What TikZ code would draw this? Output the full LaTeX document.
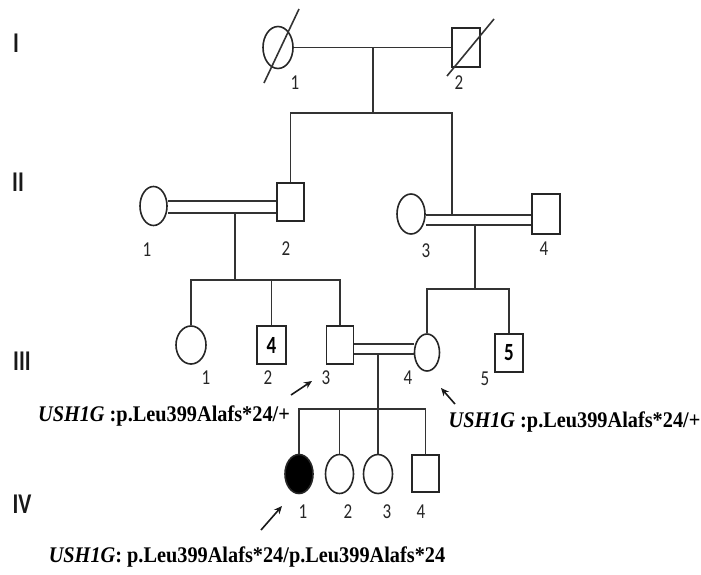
\documentclass[tikz,border=0pt]{standalone}
\usepackage{fontspec}
\setmainfont{Liberation Serif}
\newfontfamily\labfont{Carlito}
\usetikzlibrary{shapes.geometric,calc,arrows.meta}
\begin{document}
\begin{tikzpicture}[x=1pt,y=-1pt,
  ln/.style={line width=1.6pt,draw=black!80},
  fem/.style={ellipse,draw=black!85,line width=1.6pt,inner sep=0pt,fill=white},
  mal/.style={rectangle,draw=black!85,line width=1.6pt,inner sep=0pt,fill=white},
  numlab/.style={inner sep=0pt,text=black!85,font=\labfont\fontsize{17}{17}\selectfont},
  gen/.style={inner sep=0pt,text=black!90,font=\labfont\bfseries\fontsize{22}{22}\selectfont},
  boxnum/.style={font=\labfont\bfseries\fontsize{19}{19}\selectfont},
  mut/.style={inner sep=0pt,font=\bfseries\fontsize{20.3}{22}\selectfont},
  arr/.style={line width=1.6pt,draw=black!90,-{Stealth[length=8pt,width=7pt]}}]
\useasboundingbox (0,0) rectangle (701,574);

% generation labels
\node[gen] (gI)   at (16,43)  {\scalebox{1}[1.3]{I}};
\node[gen] (gII)  at (18,182) {\scalebox{1}[1.3]{II}};
\node[gen] (gIII) at (22,361) {\scalebox{1}[1.3]{III}};
\node[gen] (gIV)  at (22,504) {\scalebox{1}[1.3]{IV}};

% generation I
\node[fem,minimum width=30pt,minimum height=42pt] (I1) at (278,47.5) {};
\node[mal,minimum width=28pt,minimum height=39pt] (I2) at (466,47.5) {};
\coordinate (d1a) at (264,83);  \coordinate (d1b) at (299,9);
\coordinate (d2a) at (447,76);  \coordinate (d2b) at (494,19);
\draw[ln] (d1a) -- (d1b);
\draw[ln] (d2a) -- (d2b);
\draw[ln] (I1.east) -- (I2.west);
\coordinate (m1) at (373,47.5);
\coordinate (s1) at (373,113);
\coordinate (s1R) at (452,113);
\coordinate (c34) at (452,215);

% generation II
\node[fem,minimum width=27pt,minimum height=39pt] (II1) at (153.5,206) {};
\node[mal,minimum width=27pt,minimum height=38pt] (II2) at (290.5,202) {};
\node[fem,minimum width=28pt,minimum height=40pt] (II3) at (411,214) {};
\node[mal,minimum width=28pt,minimum height=40pt] (II4) at (546,214) {};

\draw[ln] (m1) -- (s1);
\draw[ln] (II2.north) |- (s1R) -- (c34);

\draw[ln] ($(II1.east)+(0,-5)$) -- ($(II2.west)+(0,-1)$);
\draw[ln] ($(II1.east)+(0,7)$) -- ($(II2.west)+(0,11)$);
\draw[ln] ($(II3.east)+(0,1)$) -- ($(II4.west)+(0,1)$);
\draw[ln] ($(II3.east)+(0,11)$) -- ($(II4.west)+(0,11)$);

% generation III
\node[fem,minimum width=30pt,minimum height=38pt] (III1) at (191,345) {};
\node[mal,minimum width=29pt,minimum height=38pt,boxnum] (III2) at (271.5,345) {\scalebox{1}[1.3]{4}};
\node[mal,minimum width=27pt,minimum height=38pt] (III3) at (340,345) {};
\node[fem,minimum width=25pt,minimum height=37pt] (III4) at (427,352.5) {};
\node[mal,minimum width=28pt,minimum height=38pt,boxnum] (III5) at (509,353) {\scalebox{1}[1.3]{5}};

\coordinate (c12) at (235,213);
\coordinate (s2) at (235,280);
\draw[ln] (c12) -- (s2);
\draw[ln] (III1.north) |- (III3.north |- s2) -- (III3.north);
\draw[ln] (III2.north) -- (III2.north |- s2);

\coordinate (c34b) at (475,225);
\coordinate (s3) at (475,289);
\draw[ln] (c34b) -- (s3);
\draw[ln] (III4.north) |- (III5.north |- s3) -- (III5.north);

\draw[ln] ($(III3.east)+(0,-1)$) -- ($(III4.west)+(0,-8.5)$);
\draw[ln] ($(III3.east)+(0,9)$) -- ($(III4.west)+(0,1.5)$);

% generation IV
\node[fem,fill=black,minimum width=28pt,minimum height=39pt] (IV1) at (299,474) {};
\node[fem,minimum width=28pt,minimum height=39pt] (IV2) at (339.5,474) {};
\node[fem,minimum width=29pt,minimum height=39pt] (IV3) at (378,474) {};
\node[mal,minimum width=27pt,minimum height=37pt] (IV4) at (425.5,473.5) {};

\coordinate (c3) at (378,354);
\coordinate (s4) at (378,409);
\draw[ln] (c3) -- (IV3.north);
\draw[ln] (IV1.north) |- (IV4.north |- s4) -- (IV4.north);
\draw[ln] (IV2.north) -- (IV2.north |- s4);

% individual numbers
\node[numlab] (nI1) at (295,83) {\scalebox{1}[1.25]{1}};
\node[numlab] (nI2) at (459,83) {\scalebox{1}[1.25]{2}};
\node[numlab] (nII1) at (147,250) {\scalebox{1}[1.25]{1}};
\node[numlab] (nII2) at (286,249) {\scalebox{1}[1.25]{2}};
\node[numlab] (nII3) at (426,251) {\scalebox{1}[1.25]{3}};
\node[numlab] (nII4) at (544,249) {\scalebox{1}[1.25]{4}};
\node[numlab] (nIII1) at (206,378) {\scalebox{1}[1.25]{1}};
\node[numlab] (nIII2) at (268,378) {\scalebox{1}[1.25]{2}};
\node[numlab] (nIII3) at (326,378) {\scalebox{1}[1.25]{3}};
\node[numlab] (nIII4) at (408,378) {\scalebox{1}[1.25]{4}};
\node[numlab] (nIII5) at (485,379) {\scalebox{1}[1.25]{5}};
\node[numlab] (nIV1) at (303,512) {\scalebox{1}[1.25]{1}};
\node[numlab] (nIV2) at (348,512) {\scalebox{1}[1.25]{2}};
\node[numlab] (nIV3) at (387,512) {\scalebox{1}[1.25]{3}};
\node[numlab] (nIV4) at (421,512) {\scalebox{1}[1.25]{4}};

% arrows
\coordinate (a1s) at (291,395); \coordinate (a1e) at (312,381);
\coordinate (a2s) at (455,404); \coordinate (a2e) at (441,388);
\coordinate (a3s) at (261,530); \coordinate (a3e) at (282,506);
\draw[arr] (a1s) -- (a1e);
\draw[arr] (a2s) -- (a2e);
\draw[arr] (a3s) -- (a3e);

% mutation texts
\node[mut] (t1) at (164,416) {\scalebox{1}[1.1]{\textit{USH1G} :p.Leu399Alafs*24/+}};
\node[mut] (t2) at (574.5,422) {\scalebox{1}[1.1]{\textit{USH1G} :p.Leu399Alafs*24/+}};
\node[mut] (t3) at (247,557) {\scalebox{1}[1.1]{\textit{USH1G}: p.Leu399Alafs*24/p.Leu399Alafs*24}};
\end{tikzpicture}
\end{document}
